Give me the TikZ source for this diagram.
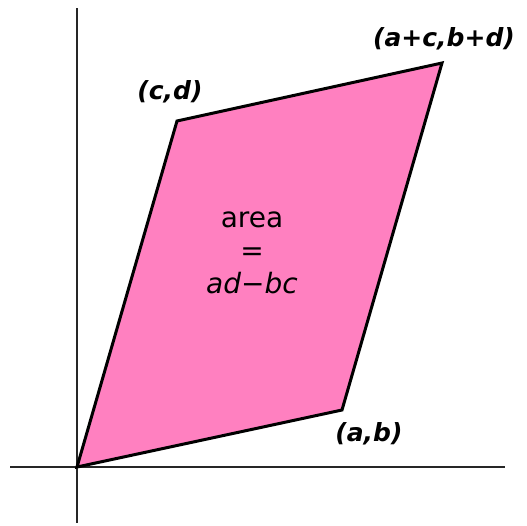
\documentclass[tikz,border=0pt]{standalone}
\usepackage{fontspec}
\setmainfont{DejaVu Sans}
\usetikzlibrary{calc, positioning}
\definecolor{areapink}{RGB}{255,128,192}
\tikzset{
    axisline/.style={line width=1.5pt, draw=black!85},
    shapeedge/.style={line width=3pt, draw=black, fill=areapink, line join=miter},
    cornerlabel/.style={font=\fontsize{25}{27}\selectfont\bfseries\itshape},
    arealabel/.style={font=\fontsize{28}{33}\selectfont, align=center}
}
\begin{document}
\begin{tikzpicture}[x=1pt,y=-1pt]
            \useasboundingbox (0,0) rectangle (527,525);
            % axes
            \coordinate (xl) at (10,467);
            \coordinate (xr) at (505,467);
            \coordinate (yt) at (77,8);
            \coordinate (yb) at (77,523);
            \draw[axisline] (xl)--(xr);
            \draw[axisline] (yt)--(yb);
            % corners
            \coordinate (o) at (77,467);
            \coordinate (ab) at (342,410);
            \coordinate (cd) at (177,121);
            \coordinate (acbd) at (442,63);
            \draw[shapeedge] (o)--(ab)--(acbd)--(cd)--cycle;
            \node[cornerlabel] (lab) at (369,434) {(\textit{a},\textit{b})};
            \node[cornerlabel] (lcd) at (170,92) {(\textit{c},\textit{d})};
            \node[cornerlabel] (lacbd) at (444,39) {(\textit{a}+\textit{c},\textit{b}+\textit{d})};
            \node[arealabel] (area) at (252,253) {area\\=\\\textit{ad}\textminus\textit{bc}};
        \end{tikzpicture}
\end{document}
